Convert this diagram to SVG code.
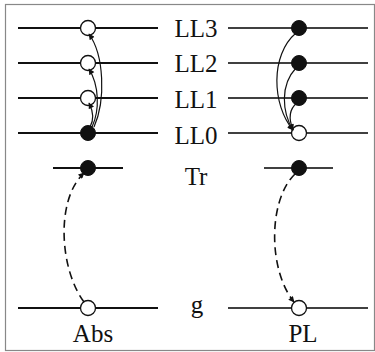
<svg xmlns="http://www.w3.org/2000/svg" width="375" height="352" viewBox="0 0 375 352">
<style>
.thick{stroke:#111;stroke-width:2.2;fill:none}
.thin{stroke:#000;stroke-width:1.3;fill:none}
.open{fill:#fff;stroke:#111;stroke-width:1.3}
.full{fill:#111;stroke:#111;stroke-width:1}
.arr{stroke:#111;stroke-width:1.2;fill:none;marker-end:url(#ah)}
.dash{stroke:#111;stroke-width:1.6;fill:none;stroke-dasharray:8 5;marker-end:url(#ah)}
text{font-family:'Liberation Serif','Times New Roman',serif;font-size:25px;fill:#111;text-anchor:middle}
</style>
<defs>
<marker id="ah" viewBox="0 0 10 10" refX="9" refY="5" markerWidth="8" markerHeight="6" markerUnits="userSpaceOnUse" orient="auto">
<path d="M0,0 L10,5 L0,10 Z" fill="#111"/>
</marker>
</defs>
<rect x="5.5" y="4.5" width="369" height="346" fill="#fff" stroke="#888" stroke-width="1.2"/>
<g id="abs-levels">
<line class="thick" x1="18" y1="28" x2="158" y2="28"/>
<line class="thick" x1="18" y1="63" x2="158" y2="63"/>
<line class="thick" x1="18" y1="98" x2="158" y2="98"/>
<line class="thick" x1="18" y1="133" x2="158" y2="133"/>
<line class="thick" x1="53" y1="168" x2="123" y2="168"/>
<line class="thick" x1="18" y1="308" x2="158" y2="308"/>
</g>
<g id="pl-levels">
<line class="thin" x1="228" y1="28" x2="368" y2="28"/>
<line class="thin" x1="228" y1="63" x2="368" y2="63"/>
<line class="thin" x1="228" y1="98" x2="368" y2="98"/>
<line class="thin" x1="228" y1="133" x2="368" y2="133"/>
<line class="thin" x1="264" y1="168" x2="333" y2="168"/>
<line class="thin" x1="228" y1="308" x2="368" y2="308"/>
</g>
<g id="labels">
<text x="196" y="37">LL3</text>
<text x="196" y="72">LL2</text>
<text x="196" y="108">LL1</text>
<text x="196" y="144">LL0</text>
<text x="196" y="185">Tr</text>
<text x="197" y="313">g</text>
<text x="93" y="342">Abs</text>
<text x="303" y="342">PL</text>
</g>
<g id="abs-states">
<circle class="open" cx="88" cy="28" r="7.5"/>
<circle class="open" cx="88" cy="63" r="7.5"/>
<circle class="open" cx="88" cy="98" r="7.5"/>
<circle class="full" cx="88" cy="133" r="7.5"/>
<circle class="full" cx="88" cy="168" r="7.5"/>
<circle class="open" cx="88" cy="308" r="7.5"/>
</g>
<g id="pl-states">
<circle class="full" cx="299" cy="28" r="7.5"/>
<circle class="full" cx="299" cy="63" r="7.5"/>
<circle class="full" cx="299" cy="98" r="7.5"/>
<circle class="open" cx="299" cy="133" r="7.5"/>
<circle class="full" cx="299" cy="168" r="7.5"/>
<circle class="open" cx="299" cy="308" r="7.5"/>
</g>
<g id="connectors">
<path class="arr" d="M94,127 C106,100 104,55 89,34"/>
<path class="arr" d="M92,127 C100,110 99,85 89,69"/>
<path class="arr" d="M90,127 C94,120 93,111 89,103"/>
<path class="arr" d="M296,33 C270,55 272,105 293,130"/>
<path class="arr" d="M296,68 C280,85 282,112 293,130"/>
<path class="arr" d="M297,103 C288,110 289,120 293,130"/>
<path class="dash" d="M84,302 C60,270 55,200 84,173"/>
<path class="dash" d="M295,174 C268,200 268,270 294,302"/>
</g>
</svg>
